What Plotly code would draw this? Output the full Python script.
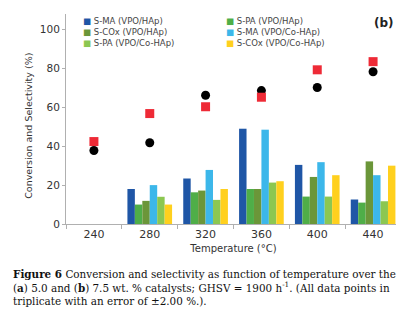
import plotly.graph_objects as go

temps = ["240", "280", "320", "360", "400", "440"]

series_names = ["S-MA (VPO/HAp)", "S-PA (VPO/HAp)", "S-COx (VPO/HAp)",
                "S-MA (VPO/Co-HAp)", "S-PA (VPO/Co-HAp)", "S-COx (VPO/Co-HAp)"]
series_colors = ["#1f56a6", "#4fae48", "#6b9639", "#3cb7ea", "#8cc751", "#ffd01e"]

s_ma_hap = [None, 18.0, 23.4, 49.0, 30.4, 12.6]
s_pa_hap = [None, 10.0, 16.3, 18.0, 14.1, 11.0]
s_cox_hap = [None, 11.9, 17.2, 18.0, 24.2, 32.2]
s_ma_cohap = [None, 20.0, 27.8, 48.5, 31.8, 25.1]
s_pa_cohap = [None, 14.0, 12.4, 21.3, 14.1, 11.7]
s_cox_cohap = [None, 10.0, 18.0, 22.0, 25.1, 30.0]

conv_hap = [37.8, 41.8, 66.2, 68.6, 70.2, 78.3]
conv_cohap = [42.4, 56.8, 60.3, 65.2, 79.3, 83.5]

series_values = [s_ma_hap, s_pa_hap, s_cox_hap, s_ma_cohap, s_pa_cohap, s_cox_cohap]

caption = ("<b>Figure 6</b> Conversion and selectivity as function of temperature over the<br>"
           "(<b>a</b>) 5.0 and (<b>b</b>) 7.5 wt. % catalysts; GHSV = 1900 h<sup>-1</sup>. (All data points in<br>"
           "triplicate with an error of ±2.00 %.).")

fig = go.Figure()
for name, color, vals in zip(series_names, series_colors, series_values):
    fig.add_trace(go.Bar(x=temps, y=vals, name=name, marker_color=color,
                         marker_line_width=0, showlegend=False))

fig.add_trace(go.Scatter(x=temps, y=conv_hap, mode="markers", showlegend=False,
                         marker=dict(color="black", size=9, symbol="circle")))
fig.add_trace(go.Scatter(x=temps, y=conv_cohap, mode="markers", showlegend=False,
                         marker=dict(color="#ee2a36", size=9, symbol="square")))

annotations = []
# legend drawn as text, two columns, row-major order
legend_cols_x = [0.045, 0.472]
legend_rows_y = [0.967, 0.914, 0.862]
for i, (name, color) in enumerate(zip(series_names, series_colors)):
    annotations.append(dict(
        text=f'<span style="color:{color}">■</span> {name}',
        xref="paper", yref="paper",
        x=legend_cols_x[i % 2], y=legend_rows_y[i // 2],
        xanchor="left", yanchor="middle", showarrow=False,
        font=dict(family="DejaVu Sans", size=8.5, color="#444444")))

annotations.append(dict(text="<b>(b)</b>", xref="paper", yref="paper", x=0.985, y=1.0,
                        xanchor="right", yanchor="top", showarrow=False,
                        font=dict(size=12, color="#222222")))

annotations.append(dict(text="Conversion and Selectivity (%)", xref="paper", yref="paper",
                        x=-0.112, y=0.47, textangle=-90, xanchor="center", yanchor="middle",
                        showarrow=False, font=dict(size=9.5, color="#333333")))

annotations.append(dict(text=caption, xref="paper", yref="paper", x=-0.165, y=-0.2,
                        xanchor="left", yanchor="top", align="left", showarrow=False,
                        font=dict(family="DejaVu Serif", size=10.4, color="#111111")))

fig.update_layout(
    width=404, height=321,
    margin=dict(l=58, r=11, t=6, b=105),
    paper_bgcolor="white", plot_bgcolor="white",
    barmode="group", bargap=0.2, bargroupgap=0,
    font=dict(family="DejaVu Sans", color="#333333"),
    showlegend=False,
    xaxis=dict(type="category", showline=True, linecolor="#b0b0b0", linewidth=1,
               ticks="outside", tickson="boundaries", ticklen=4, tickcolor="#b0b0b0",
               tickfont=dict(size=11, color="#333333"),
               title=dict(text="Temperature (°C)", font=dict(size=10, color="#333333"), standoff=4),
               showgrid=False, zeroline=False),
    yaxis=dict(range=[0, 108], tickvals=[0, 20, 40, 60, 80, 100],
               showline=True, linecolor="#b0b0b0", linewidth=1,
               ticks="outside", ticklen=3, tickcolor="#b0b0b0",
               tickfont=dict(size=10.5, color="#333333"),
               showgrid=False, zeroline=False),
    annotations=annotations,
)

fig.write_html("out.html")
